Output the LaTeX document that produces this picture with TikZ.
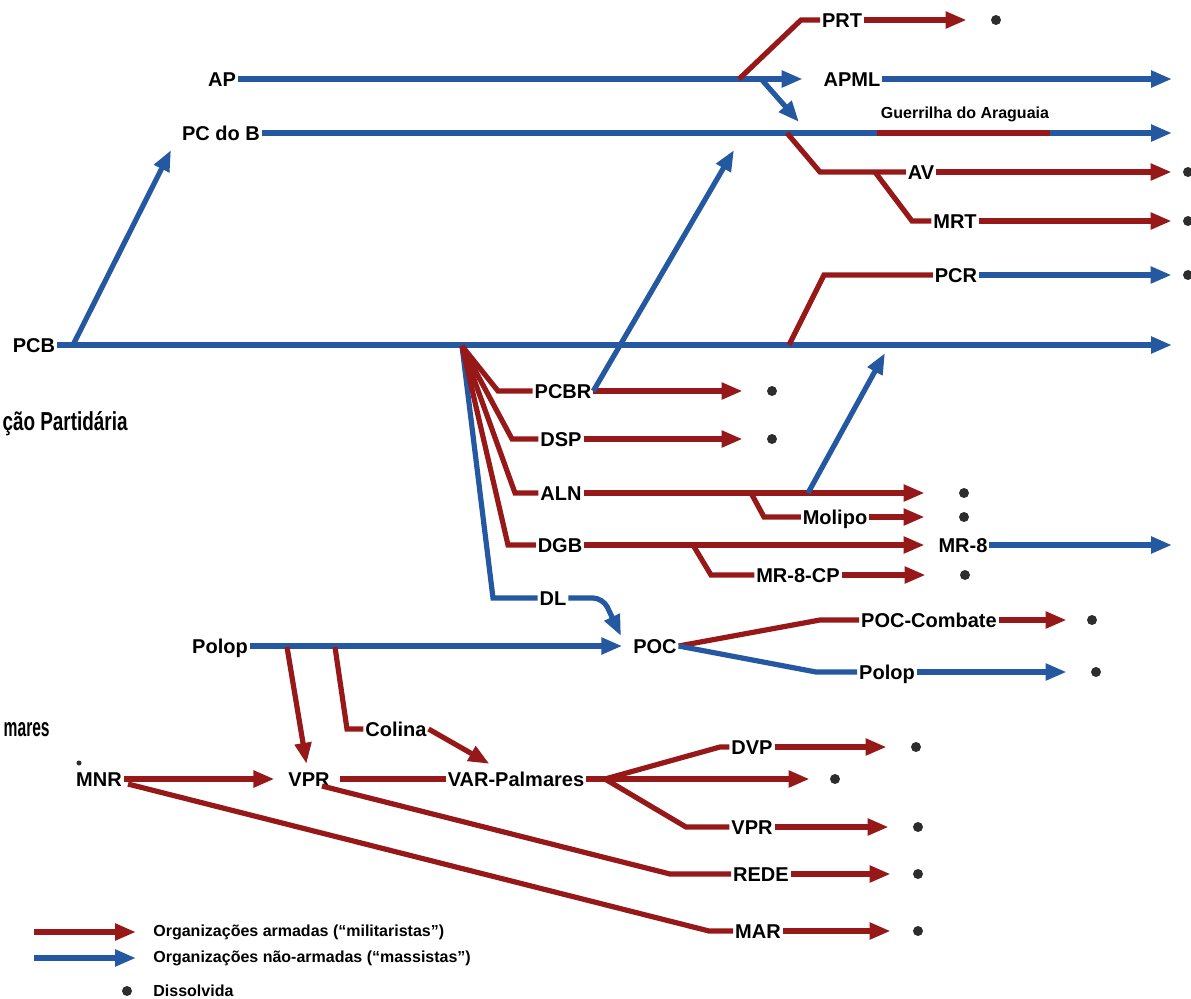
\documentclass[tikz,border=0pt]{standalone}
\usepackage{fontspec}
\setmainfont{Liberation Sans}
\newfontfamily\condfont{Liberation Sans}[FakeStretch=0.75]
\usepackage{tikz}
\usetikzlibrary{arrows.meta}
\definecolor{mred}{RGB}{150,24,24}
\definecolor{mblue}{RGB}{36,88,160}
\definecolor{mdot}{RGB}{45,45,45}
\tikzset{org/.style = {font=\bfseries, inner sep=0.8pt, text height=7.2pt, text depth=0pt}}
\tikzset{legend/.style = {font=\bfseries\fontsize{8}{9.6}\selectfont, anchor=west, inner sep=0}}
\tikzset{cut/.style = {font=\condfont\bfseries\fontsize{13}{15}\selectfont, anchor=east, inner sep=0}}
\tikzset{rl/.style = {mred, line width=2.6pt}}
\tikzset{bl/.style = {mblue, line width=2.6pt}}
\tikzset{arr/.style = {-{Triangle[length=10.5pt, width=8pt]}}}
\tikzset{todot/.style = {shorten >=#1}, todot/.default = 12pt}
\tikzset{circ/.style = {fill=mdot, circle, inner sep=0, minimum size=5pt}}

\begin{document}
\begin{tikzpicture}[x=0.5pt, y=-0.5pt]
      \useasboundingbox (0,0) rectangle (1191,998);

      \node[org] (PCB) at (34,345) {PCB};
      \node[org] (AP) at (222,79) {AP};
      \node[org] (PCdoB) at (221,133) {PC do B};
      \node[org] (PRT) at (842,20) {PRT};
      \node[org] (APML) at (852,79) {APML};
      \node[org] (AV) at (921,172) {AV};
      \node[org] (MRT) at (955,221) {MRT};
      \node[org] (PCR) at (956,275) {PCR};
      \node[org] (PCBR) at (563,391) {PCBR};
      \node[org] (DSP) at (561,439) {DSP};
      \node[org] (ALN) at (561,493) {ALN};
      \node[org] (DGB) at (560,545) {DGB};
      \node[org] (DL) at (553,598) {DL};
      \node[org] (Molipo) at (835,517) {Molipo};
      \node[org] (MRoitoCP) at (798,575) {MR-8-CP};
      \node[org] (MRoito) at (963,545) {MR-8};
      \node[org] (Polop) at (220,646) {Polop};
      \node[org] (POC) at (655,646) {POC};
      \node[org] (POCCombate) at (929,620) {POC-Combate};
      \node[org] (PolopB) at (887,672) {Polop};
      \node[org] (Colina) at (396,729) {Colina};
      \node[org] (MNR) at (99,779) {MNR};
      \node[org] (VPR) at (309,779) {VPR};
      \node[org] (VAR) at (516,779) {VAR-Palmares};
      \node[org] (DVP) at (752,747) {DVP};
      \node[org] (VPRB) at (752,827) {VPR};
      \node[org] (REDE) at (761,874) {REDE};
      \node[org] (MAR) at (758,931) {MAR};

      \node[font=\bfseries\fontsize{8}{9}\selectfont, inner sep=0] (Guerrilha) at (965,114) {Guerrilha do Araguaia};
      \node[cut, xscale=0.97] (Particao) at (128,424) {ção Partidária};
      \node[cut, xscale=0.8] (Palmares) at (50,730) {mares};

      \foreach \o/\x/\y in {PRT/996/20, AV/1188/172, MRT/1188/221, PCR/1188/275,
                            PCBR/772/391, DSP/772/439, ALN/964/493, Molipo/964/517,
                            MRoitoCP/965/575, POCCombate/1092/620, PolopB/1096/672,
                            DVP/916/747, VAR/835/779, VPRB/918/827, REDE/918/874, MAR/918/931}
        \node[circ] (d\o) at (\x,\y) {};
      \node[circ, minimum size=2.5pt] (dMNR) at (79,763) {};

      \coordinate (ePCB) at (1172,345);
      \coordinate (ePCdoB) at (1172,133);
      \coordinate (eAPML) at (1172,79);
      \coordinate (eMRoito) at (1172,545);

      \draw[bl, arr] (PCB) -- (ePCB);
      \coordinate (jPCdoB) at (73,345);
      \coordinate (tPCdoB) at (171,150);
      \draw[bl, arr] (jPCdoB) -- (tPCdoB);

      \draw[bl, arr, shorten >=9.5pt] (AP) -- (APML);
      \draw[bl, arr] (APML) -- (eAPML);
      \draw[bl, arr] (PCdoB) -- (ePCdoB);
      \coordinate (gA) at (877,133);
      \coordinate (gB) at (1050,133);
      \draw[rl] (gA) -- (gB);

      \coordinate (jAPPC) at (762,80);
      \coordinate (tAPPC) at (799,122);
      \draw[bl, arr] (jAPPC) -- (tAPPC);

      \coordinate (jPRT) at (739,79);
      \coordinate (cPRT) at (801,20);
      \draw[rl] (jPRT) -- (cPRT) -- (PRT);
      \draw[rl, arr, todot] (PRT) -- (dPRT);

      \coordinate (jAV) at (787,133);
      \coordinate (cAV) at (820,172);
      \draw[rl] (jAV) -- (cAV) -- (AV);
      \draw[rl, arr, todot=5.5pt] (AV) -- (dAV);
      \coordinate (jMRT) at (875,172);
      \coordinate (cMRT) at (912,221);
      \draw[rl] (jMRT) -- (cMRT) -- (MRT);
      \draw[rl, arr, todot=5.5pt] (MRT) -- (dMRT);

      \coordinate (jPCR) at (789,345);
      \coordinate (cPCR) at (824,275);
      \draw[rl] (jPCR) -- (cPCR) -- (PCR);
      \draw[bl, arr, todot=5.5pt] (PCR) -- (dPCR);

      \coordinate (jFan) at (462,346);
      \coordinate (cDL) at (493,598);
      \draw[bl] (jFan) -- (cDL) -- (DL);
      \coordinate (cPCBR) at (498,391);
      \coordinate (cDSP) at (512,439);
      \coordinate (cALN) at (515,493);
      \coordinate (cDGB) at (508,545);
      \draw[rl] (jFan) -- (cPCBR) -- (PCBR);
      \draw[rl] (jFan) -- (cDSP) -- (DSP);
      \draw[rl] (jFan) -- (cALN) -- (ALN);
      \draw[rl] (jFan) -- (cDGB) -- (DGB);

      \draw[rl, arr, todot] (PCBR) -- (dPCBR);
      \draw[rl, arr, todot] (DSP) -- (dDSP);
      \coordinate (tPCBR) at (734,150);
      \draw[bl, arr] (PCBR.east) -- (tPCBR);

      \draw[rl, arr, todot=17pt] (ALN) -- (dALN);
      \coordinate (jMolipo) at (751,493);
      \coordinate (cMolipo) at (764,517);
      \draw[rl] (jMolipo) -- (cMolipo) -- (Molipo);
      \draw[rl, arr, todot=17pt] (Molipo) -- (dMolipo);
      \coordinate (jALN) at (808,493);
      \coordinate (tALN) at (885,353);
      \draw[bl, arr] (jALN) -- (tALN);

      \draw[rl, arr, shorten >=6pt] (DGB) -- (MRoito);
      \draw[bl, arr] (MRoito) -- (eMRoito);
      \coordinate (jMRoitoCP) at (693,545);
      \coordinate (cMRoitoCP) at (711,575);
      \draw[rl] (jMRoitoCP) -- (cMRoitoCP) -- (MRoitoCP);
      \draw[rl, arr, todot=17pt] (MRoitoCP) -- (dMRoitoCP);

      \coordinate (cDLPOC) at (603,598);
      \coordinate (tDLPOC) at (621,636);
      \draw[bl, arr, rounded corners=5pt] (DL) -- (cDLPOC) -- (tDLPOC);
      \draw[bl, arr, shorten >=4.5pt] (Polop) -- (POC);

      \coordinate (cPOCCombate) at (820,620);
      \draw[rl] (POC.east) -- (cPOCCombate) -- (POCCombate);
      \draw[rl, arr, todot=10pt] (POCCombate) -- (dPOCCombate);
      \coordinate (cPolopB) at (816,672);
      \draw[bl] (POC.east) -- (cPolopB) -- (PolopB);
      \draw[bl, arr, todot] (PolopB) -- (dPolopB);

      \coordinate (jPolopVPR) at (287,647);
      \draw[rl, arr, shorten >=3pt] (jPolopVPR) -- (VPR);
      \coordinate (jColina) at (335,647);
      \coordinate (cColina) at (347,729);
      \draw[rl] (jColina) -- (cColina) -- (Colina);
      \draw[rl, arr, shorten >=6pt] (Colina.east) -- (VAR);

      \draw[rl, arr, shorten >=6pt] (MNR) -- (VPR);
      \draw[rl, shorten <=4pt] (VPR) -- (VAR);
      \coordinate (jVAR) at (605,779);
      \draw[rl] (VAR) -- (jVAR);
      \coordinate (cDVP) at (720,747);
      \draw[rl] (jVAR) -- (cDVP) -- (DVP);
      \draw[rl, arr, todot] (DVP) -- (dDVP);
      \draw[rl, arr, todot=10pt] (jVAR) -- (dVAR);
      \coordinate (cVPRB) at (686,827);
      \draw[rl] (jVAR) -- (cVPRB) -- (VPRB);
      \draw[rl, arr, todot] (VPRB) -- (dVPRB);

      \coordinate (jREDE) at (322,786);
      \coordinate (cREDE) at (670,874);
      \draw[rl] (jREDE) -- (cREDE) -- (REDE);
      \draw[rl, arr, todot=11pt] (REDE) -- (dREDE);
      \coordinate (jMAR) at (128,784);
      \coordinate (cMAR) at (709,931);
      \draw[rl] (jMAR) -- (cMAR) -- (MAR);
      \draw[rl, arr, todot=11pt] (MAR) -- (dMAR);

      \node[legend] (legR) at (153,932) {Organizações armadas (“militaristas”)};
      \node[legend] (legB) at (153,958) {Organizações não-armadas (“massistas”)};
      \node[legend] (legD) at (153,991) {Dissolvida};
      \node[circ] (dLeg) at (127,991) {};
      \coordinate (lgR) at (34,932);
      \coordinate (lgB) at (34,958);
      \draw[rl, arr, shorten >=8.5pt] (lgR) -- (legR);
      \draw[bl, arr, shorten >=8.5pt] (lgB) -- (legB);
\end{tikzpicture}
\end{document}
